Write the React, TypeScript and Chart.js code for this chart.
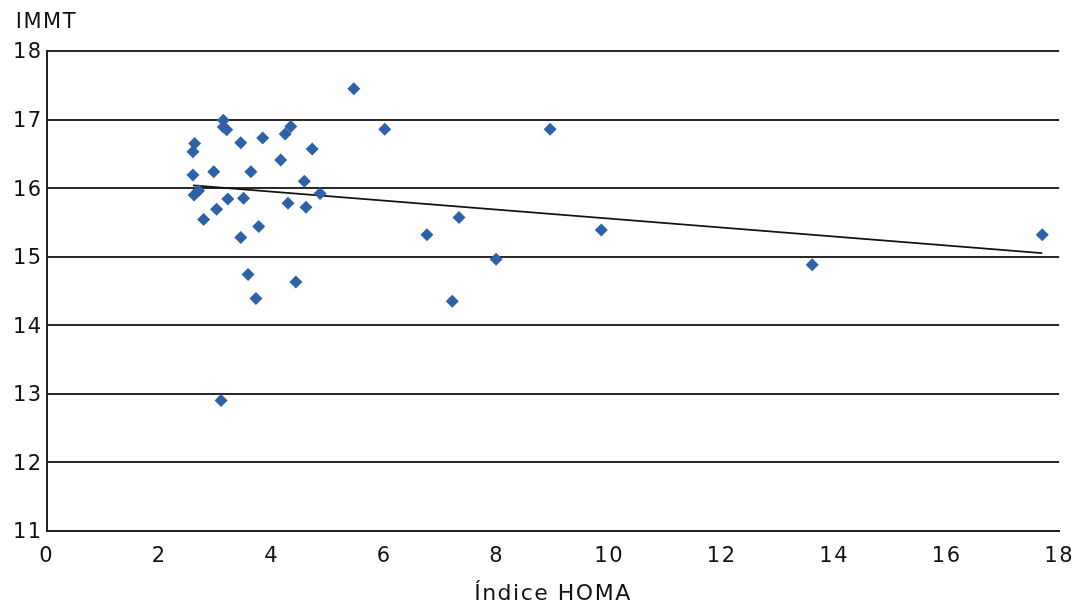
import React, { useEffect, useRef } from "react";
import { Chart, registerables } from "chart.js";

Chart.register(...registerables);

const homaValues: number[] = [
  5.46, 6.01, 8.95, 3.14, 3.14, 3.2, 2.63, 2.6, 3.45, 3.84,
  4.34, 4.24, 4.72, 4.16, 2.6, 2.97, 3.63, 4.58, 2.62, 2.7,
  4.86, 3.22, 3.5, 3.02, 4.29, 4.61, 2.79, 3.77, 3.45, 6.76,
  7.33, 9.86, 7.99, 13.61, 17.7, 3.58, 3.72, 4.43, 7.21, 3.1,
];
const immtValues: number[] = [
  17.45, 16.86, 16.86, 16.99, 16.89, 16.85, 16.65, 16.53, 16.66, 16.73,
  16.9, 16.79, 16.57, 16.41, 16.19, 16.24, 16.24, 16.1, 15.9, 15.96,
  15.92, 15.84, 15.85, 15.69, 15.78, 15.72, 15.54, 15.44, 15.28, 15.32,
  15.57, 15.39, 14.96, 14.88, 15.32, 14.74, 14.39, 14.63, 14.35, 12.9,
];
const trendX: number[] = [2.6, 17.7];
const trendY: number[] = [16.04, 15.05];

const xTitle = "Índice HOMA";
const yTitle = "IMMT";

const FONT = "'DejaVu Sans', Verdana, sans-serif";
const SPACING = "1.5px";

const spacingPlugin = {
  id: "letterSpacing",
  beforeLayout(chart: any) {
    chart.ctx.letterSpacing = SPACING;
  },
  beforeDraw(chart: any) {
    chart.ctx.letterSpacing = SPACING;
  },
};

const yTitlePlugin = {
  id: "yTopTitle",
  afterDraw(chart: any) {
    const ctx = chart.ctx;
    const area = chart.chartArea;
    ctx.save();
    ctx.letterSpacing = SPACING;
    ctx.fillStyle = "#111";
    ctx.font = `21px ${FONT}`;
    ctx.textAlign = "left";
    ctx.textBaseline = "middle";
    ctx.fillText(yTitle, area.left - 31, area.top - 28);
    ctx.restore();
  },
};

export default function App() {
  const ref = useRef<HTMLCanvasElement | null>(null);
  useEffect(() => {
    if (!ref.current) return;
    const chart = new Chart(ref.current, {
      type: "scatter",
      data: {
        datasets: [
          {
            type: "line",
            data: trendX.map((x, i) => ({ x, y: trendY[i] })),
            borderColor: "#111",
            borderWidth: 1.7,
            pointRadius: 0,
            fill: false,
            order: 2,
          },
          {
            data: homaValues.map((x, i) => ({ x, y: immtValues[i] })),
            backgroundColor: "#2E61A6",
            borderColor: "#2E61A6",
            pointStyle: "rectRot",
            pointRadius: 6.5,
            borderWidth: 0,
            order: 1,
          },
        ],
      },
      plugins: [spacingPlugin, yTitlePlugin],
      options: {
        animation: false,
        responsive: true,
        maintainAspectRatio: false,
        layout: { padding: { left: 9, right: 0, top: 51, bottom: 0 } },
        plugins: {
          legend: { display: false },
          tooltip: { enabled: false },
          title: { display: false },
        },
        scales: {
          x: {
            type: "linear",
            min: 0,
            max: 18,
            ticks: {
              stepSize: 2,
              color: "#111",
              font: { family: FONT, size: 21 },
              padding: 1,
              maxRotation: 0,
            },
            grid: { display: false, drawTicks: true, tickLength: 12 },
            border: { display: true, color: "#222", width: 2 },
            title: {
              display: true,
              text: xTitle,
              color: "#111",
              font: { family: FONT, size: 22, lineHeight: 1.0 },
              padding: { top: 13, bottom: 3 },
            },
          },
          y: {
            type: "linear",
            min: 11,
            max: 18,
            ticks: {
              stepSize: 1,
              color: "#111",
              font: { family: FONT, size: 21 },
              padding: 4,
              labelOffset: 2,
            },
            grid: { color: "#2a2a2a", lineWidth: 2, drawTicks: false },
            border: { display: true, color: "#222", width: 2 },
          },
        },
      },
    });
    return () => chart.destroy();
  }, []);
  return (
    <div style={{ position: "fixed", left: 0, top: 0, width: 1075, height: 608, background: "#fff" }}>
      <canvas ref={ref} />
    </div>
  );
}
